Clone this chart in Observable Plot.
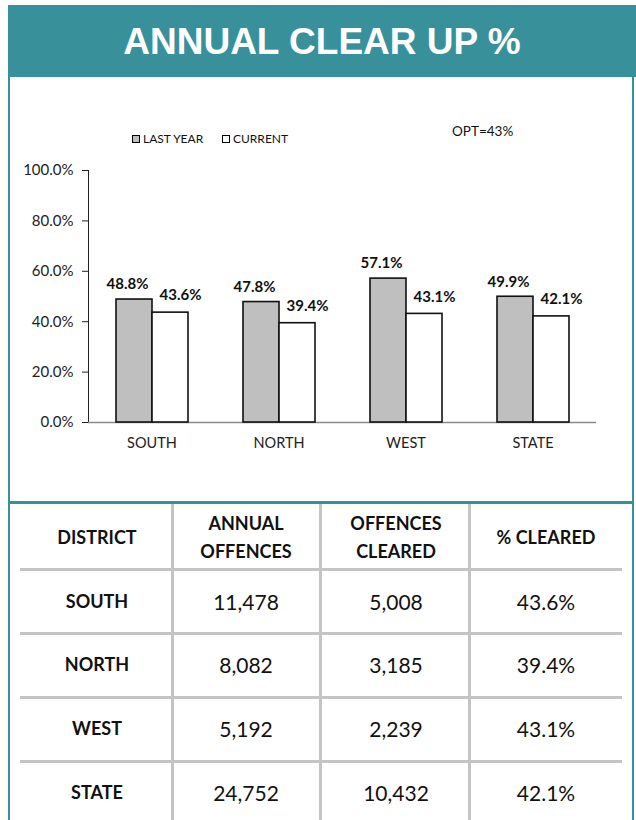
<!DOCTYPE html>
<html><head><meta charset="utf-8">
<script src="https://cdn.jsdelivr.net/npm/d3@7"></script>
<script src="https://cdn.jsdelivr.net/npm/@observablehq/plot@0.6"></script>
<style>
body{margin:0;background:#fff;font-family:Lato,"Open Sans",sans-serif;color:#111;}
#page{position:relative;width:636px;height:820px;overflow:hidden;}
#header{position:absolute;left:8px;top:5px;width:628px;height:72px;background:#38909a;color:#fff;font:bold 37px "Liberation Sans",Arial,sans-serif;text-align:center;line-height:74px;}
#box{position:absolute;left:8px;top:77px;width:622px;height:760px;border:2px solid #38909a;border-top:none;}
#sep{position:absolute;left:8px;top:501px;width:626px;height:3px;background:#38909a;}
#chart{position:absolute;left:0;top:150px;}
.lg{position:absolute;font-size:12px;line-height:14px;}
.sw{position:absolute;width:6px;height:6px;border:1px solid #000;}
.vl{position:absolute;width:3px;background:#c4c4c4;top:504px;height:320px;}
.hl{position:absolute;height:3px;background:#c4c4c4;left:20px;width:602px;}
.cell{position:absolute;transform:translate(-50%,-50%);text-align:center;white-space:nowrap;}
.hd{font-weight:bold;font-size:18px;line-height:28px;}
.dn{font-weight:bold;font-size:18px;}
.num{font-size:21px;}
</style></head>
<body><div id="page">
<div id="header">ANNUAL CLEAR UP %</div>
<div id="box"></div>
<div id="sep"></div>
<div id="chart"></div>
</div>
<script>
const districts = ["SOUTH", "NORTH", "WEST", "STATE"];
const seriesNames = ["LAST YEAR", "CURRENT"];
const lastYear = [48.8, 47.8, 57.1, 49.9];
const current = [43.6, 39.4, 43.1, 42.1];
const yTicks = [0, 20, 40, 60, 80, 100];
const optText = "OPT=43%";
const tableHeaders = [["DISTRICT"], ["ANNUAL", "OFFENCES"], ["OFFENCES", "CLEARED"], ["% CLEARED"]];
const annualOffences = [11478, 8082, 5192, 24752];
const offencesCleared = [5008, 3185, 2239, 10432];
const pctCleared = [43.6, 39.4, 43.1, 42.1];

const data = [];
districts.forEach((d, i) => {
  data.push({district: d, series: seriesNames[0], value: lastYear[i]});
  data.push({district: d, series: seriesNames[1], value: current[i]});
});
const pct = v => v.toFixed(1) + "%";

const chart = Plot.plot({
  width: 636, height: 312,
  marginLeft: 88, marginRight: 40, marginTop: 20, marginBottom: 40,
  style: {fontFamily: "Lato, sans-serif", fontSize: "14.5px", color: "#222", background: "transparent"},
  fx: {domain: districts, padding: 0, label: null, tickSize: 0, tickPadding: 15},
  x: {domain: seriesNames, paddingInner: 0, paddingOuter: 0.74, axis: null},
  y: {domain: [0, 100], ticks: yTicks, tickFormat: pct, label: null, tickSize: 6, tickPadding: 9, line: true},
  color: {domain: seriesNames, range: ["#bfbfbf", "#ffffff"]},
  marks: [
    Plot.ruleY([0], {stroke: "#8a8a8a", strokeWidth: 1.5}),
    Plot.barY(data, {fx: "district", x: "series", y: "value", fill: "series", stroke: "#111", strokeWidth: 1.6}),
    Plot.text(data.filter(d => d.series === seriesNames[0]), {fx: "district", x: "series", y: "value", text: d => pct(d.value), dy: -15, dx: -7, fontWeight: "bold", fontSize: 15, fill: "#111"}),
    Plot.text(data.filter(d => d.series === seriesNames[1]), {fx: "district", x: "series", y: "value", text: d => pct(d.value), dy: -17, dx: 10, fontWeight: "bold", fontSize: 15, fill: "#111"})
  ]
});
document.getElementById("chart").appendChild(chart);
chart.querySelectorAll('g[aria-label="y-axis tick label"]').forEach(el => el.setAttribute("font-size", "15"));
chart.querySelectorAll('g[aria-label="fx-axis tick label"]').forEach(el => el.setAttribute("font-size", "14.5"));
chart.querySelectorAll('g[aria-label="y-axis tick"], g[aria-label="y-axis line"]').forEach(el => el.setAttribute("stroke", "#8a8a8a"));

const page = document.getElementById("page");
function add(cls, html, style) {
  const el = document.createElement("div");
  el.className = cls; el.innerHTML = html;
  Object.assign(el.style, style);
  page.appendChild(el);
  return el;
}
// legend
add("sw", "", {left: "132px", top: "135px", background: "#bfbfbf"});
add("lg", seriesNames[0], {left: "143px", top: "132px"});
add("sw", "", {left: "222px", top: "135px", background: "#fff"});
add("lg", seriesNames[1], {left: "233px", top: "132px"});
add("lg", optText, {left: "452px", top: "124px", fontSize: "13.5px"});

// table
[172, 320, 469].forEach(x => add("vl", "", {left: (x - 1) + "px"}));
const rowY = [537, 601, 664, 728, 792];
[569, 633, 697, 761].forEach(y => add("hl", "", {top: (y - 1) + "px"}));
const colX = [97, 246, 396, 546];
tableHeaders.forEach((h, j) => add("cell hd", h.join("<br>"), {left: colX[j] + "px", top: rowY[0] + "px"}));
const fmt = d3.format(",");
districts.forEach((d, i) => {
  const y = rowY[i + 1] + "px";
  add("cell dn", d, {left: colX[0] + "px", top: y});
  add("cell num", fmt(annualOffences[i]), {left: colX[1] + "px", top: y});
  add("cell num", fmt(offencesCleared[i]), {left: colX[2] + "px", top: y});
  add("cell num", pct(pctCleared[i]), {left: colX[3] + "px", top: y});
});
</script>
</body></html>
